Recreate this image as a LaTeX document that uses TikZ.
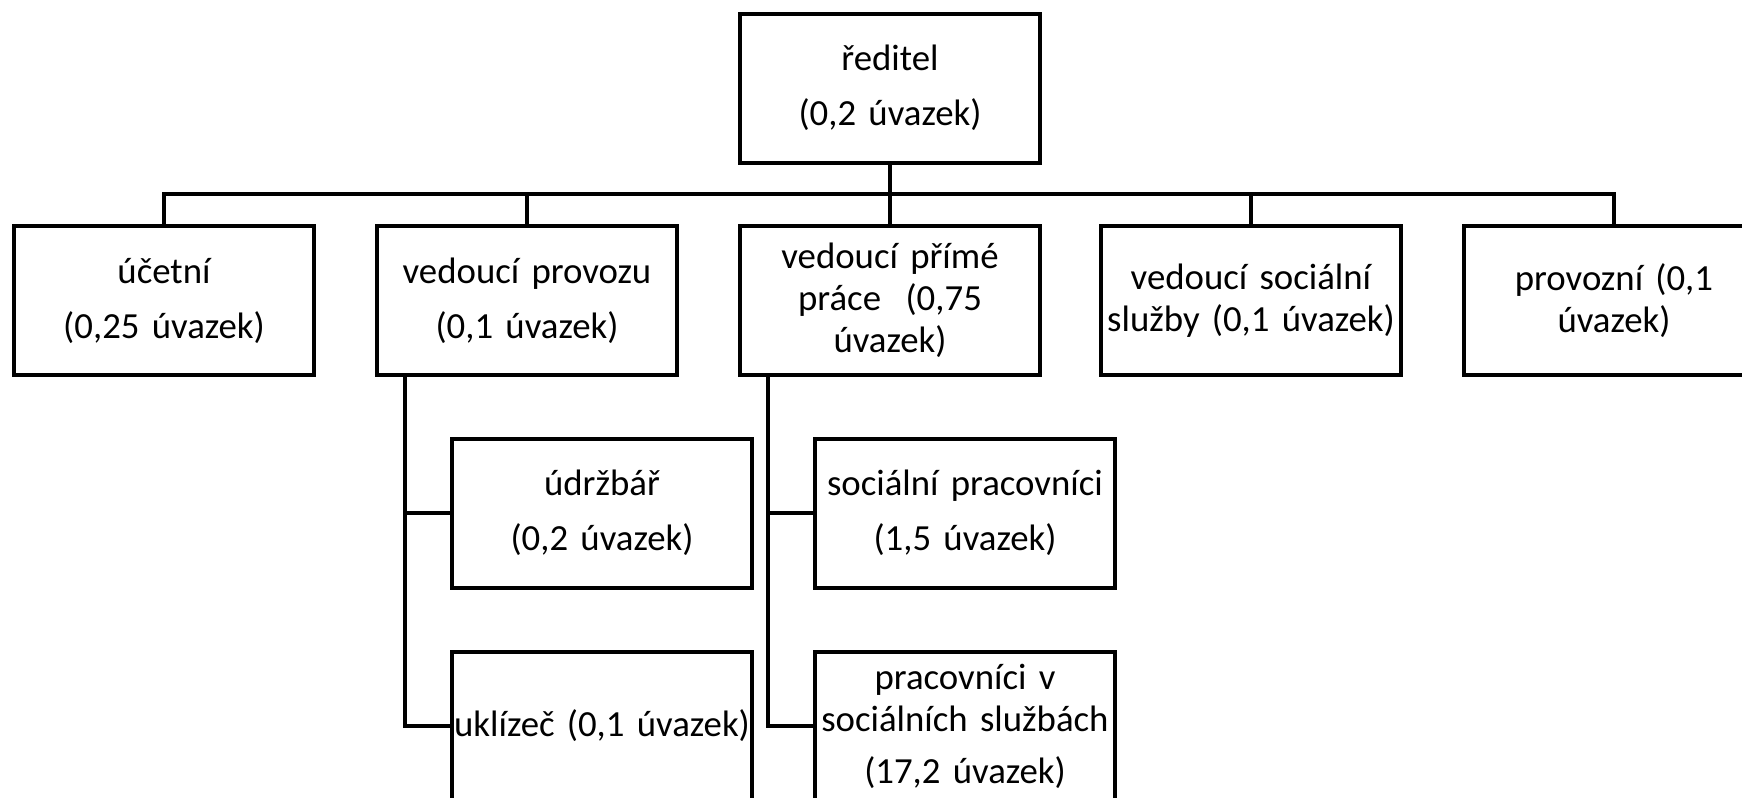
\documentclass[tikz,border=0pt]{standalone}
\usepackage{fontspec}
\setmainfont[WordSpace=0.85]{Carlito}
\begin{document}
\begin{tikzpicture}[x=0.5pt,y=-0.5pt,
  box/.style={draw, line width=2pt, minimum width=150pt, minimum height=74.5pt,
    text width=147pt, align=center, inner sep=0pt,
    font=\fontsize{18.4pt}{21pt}\selectfont},
  conn/.style={line width=2pt}]
\useasboundingbox (0,0) rectangle (1742,798);
\begin{scope}
\clip (0,0) rectangle (1742,798);
\node[box] (dir) at (890,88) {ředitel\\[6.5pt](0,2 úvazek)};
\node[box] (uc) at (164,300.5) {účetní\\[6.5pt](0,25 úvazek)};
\node[box] (vp) at (527,300.5) {vedoucí provozu\\[6.5pt](0,1 úvazek)};
\node[box] (vpp) at (890,300.5) {vedoucí přímé\\práce\ \ (0,75\\úvazek)};
\node[box] (vss) at (1251,300.5) {vedoucí sociální\\služby (0,1 úvazek)};
\node[box] (prov) at (1614,300.5) {provozní (0,1\\úvazek)};
\node[box] (udr) at (602,513) {údržbář\\[6.5pt](0,2 úvazek)};
\node[box] (ukl) at (602,726) {\makebox[147pt][c]{uklízeč (0,1 úvazek)}};
\node[box] (sp) at (965,513) {sociální pracovníci\\[6.5pt](1,5 úvazek)};
\node[box] (pss) at (965,726) {pracovníci v\\sociálních službách\\[5pt](17,2 úvazek)};
\coordinate (bus) at (890,194);
\draw[conn] (dir.south) -- (bus);
\draw[conn] (uc.north) |- (bus);
\draw[conn] (vp.north) |- (bus);
\draw[conn] (vpp.north) -- (bus);
\draw[conn] (vss.north) |- (bus);
\draw[conn] (prov.north) |- (bus);
\draw[conn] ([xshift=15pt]vp.south west) |- (udr.west);
\draw[conn] ([xshift=15pt]vp.south west) |- (ukl.west);
\draw[conn] ([xshift=15pt]vpp.south west) |- (sp.west);
\draw[conn] ([xshift=15pt]vpp.south west) |- (pss.west);
\end{scope}
\end{tikzpicture}
\end{document}
